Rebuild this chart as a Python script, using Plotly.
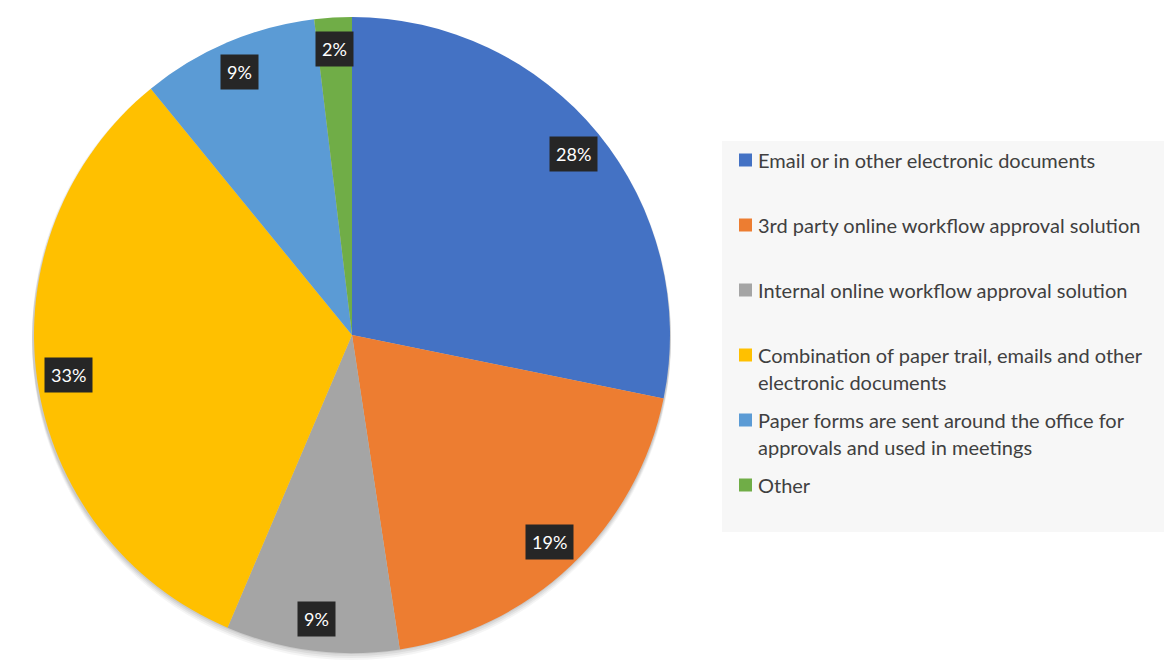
import math
import textwrap
import plotly.graph_objects as go

categories = [
    "Email or in other electronic documents",
    "3rd party online workflow approval solution",
    "Internal online workflow approval solution",
    "Combination of paper trail, emails and other electronic documents",
    "Paper forms are sent around the office for approvals and used in meetings",
    "Other",
]
values = [28.2, 19.4, 8.8, 32.7, 9.0, 1.9]
colors = ["#4472C4", "#ED7D31", "#A5A5A5", "#FFC000", "#5B9BD5", "#70AD47"]

W, H = 1164, 664
CX, CY, R = 352, 335, 318  # pie centre / radius in pixels

fig = go.Figure()
fig.add_trace(go.Pie(
    labels=categories,
    values=values,
    marker=dict(colors=colors, line=dict(width=0)),
    sort=False,
    direction="clockwise",
    rotation=0,
    textinfo="none",
    hoverinfo="label+percent",
    showlegend=False,
    domain=dict(x=[(CX - R) / W, (CX + R) / W], y=[(H - CY - R) / H, (H - CY + R) / H]),
))

shapes = []
# soft shadow behind pie
for off, op in [(7, 0.04), (5, 0.05), (3, 0.06), (1, 0.07)]:
    shapes.append(dict(type="circle", xref="paper", yref="paper", layer="below",
                       x0=(CX - R - 2) / W, x1=(CX + R + 1) / W,
                       y0=(H - CY - R - off) / H, y1=(H - CY + R - off) / H,
                       fillcolor=f"rgba(0,0,0,{op})", line=dict(width=0)))

annotations = []
# data labels
total = sum(values)
cum = 0
for v in values:
    mid = (cum + v / 2) / total * 2 * math.pi
    cum += v
    rr = 0.9 * R
    px = CX + rr * math.sin(mid)
    py = CY - rr * math.cos(mid)
    annotations.append(dict(
        x=px / W, y=1 - py / H, xref="paper", yref="paper",
        text=f"{round(v / total * 100)}%", showarrow=False,
        font=dict(family="Lato", size=18, color="white"),
        bgcolor="#262626", borderpad=6,
        xanchor="center", yanchor="middle",
    ))

# legend box
LX0, LX1, LY0, LY1 = 722, 1164, 141, 532
shapes.append(dict(type="rect", xref="paper", yref="paper", layer="below",
                   x0=LX0 / W, x1=LX1 / W, y0=1 - LY1 / H, y1=1 - LY0 / H,
                   fillcolor="#F7F7F7", line=dict(width=0)))
for i, (cat, col) in enumerate(zip(categories, colors)):
    y0 = 160 + 65 * i
    shapes.append(dict(type="rect", xref="paper", yref="paper",
                       x0=739 / W, x1=752 / W, y0=1 - (y0 + 6.5) / H, y1=1 - (y0 - 6.5) / H,
                       fillcolor=col, line=dict(width=0)))
    for j, line in enumerate(textwrap.wrap(cat, 44)):
        annotations.append(dict(
            x=756 / W, y=1 - (y0 + 27 * j) / H, xref="paper", yref="paper",
            text=line, showarrow=False, xanchor="left", yanchor="middle",
            font=dict(family="Lato", size=20, color="#404040"),
        ))

fig.update_layout(
    width=W, height=H,
    margin=dict(l=0, r=0, t=0, b=0),
    paper_bgcolor="white", plot_bgcolor="white",
    shapes=shapes, annotations=annotations,
    showlegend=False,
)
fig.write_html("out.html")
